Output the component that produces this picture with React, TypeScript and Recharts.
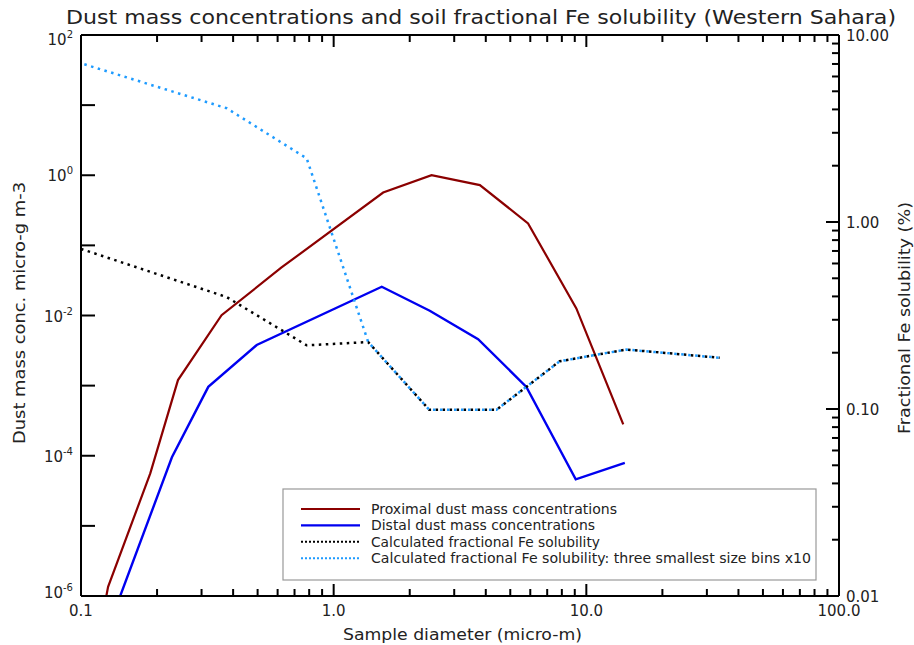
import { LineChart, Line, XAxis, YAxis, ReferenceLine } from 'recharts';

// proximal dust (left axis, micro-g m-3)
const proximalDiam = [0.12, 0.128, 0.188, 0.242, 0.36, 0.62, 1.57, 2.44, 3.79, 5.88, 9.13, 14.0];
const proximalMass = [4e-7, 1.35e-6, 5.6e-5, 1.2e-3, 0.0101, 0.048, 0.566, 1.0, 0.724, 0.206, 0.0126, 2.8e-4];

// distal dust (left axis)
const distalDiam = [0.13, 0.229, 0.319, 0.496, 1.55, 2.4, 3.73, 5.79, 9.08, 14.2];
const distalMass = [4e-7, 9.5e-5, 9.6e-4, 3.8e-3, 0.0257, 0.0117, 4.6e-3, 9.6e-4, 4.6e-5, 7.9e-5];

// fractional Fe solubility (right axis, %)
const solDiam = [0.1, 0.377, 0.782, 1.37, 2.39, 4.41, 7.84, 14.4, 33.7];
const solCalc = [0.718, 0.397, 0.219, 0.228, 0.099, 0.099, 0.18, 0.208, 0.188];
const solScaled = [7.06, 4.06, 2.19, 0.228, 0.099, 0.099, 0.18, 0.208, 0.188];

const xMajor = [0.1, 1, 10, 100];
const xMajorLabels = ['0.1', '1.0', '10.0', '100.0'];
const leftDecades = [-6, -5, -4, -3, -2, -1, 0, 1, 2];
const rightMajor = [0.01, 0.1, 1, 10];
const rightMajorLabels = ['0.01', '0.10', '1.00', '10.00'];
const minorMult = [2, 3, 4, 5, 6, 7, 8, 9];

const legendItems = [
  { name: 'Proximal dust mass concentrations', color: '#8b0000', dash: undefined, len: 246 },
  { name: 'Distal dust mass concentrations', color: '#0000f0', dash: undefined, len: 224 },
  { name: 'Calculated fractional Fe solubility', color: '#000000', dash: '2 2', len: 229 },
  { name: 'Calculated fractional Fe solubility: three smallest size bins x10', color: '#1e9bff', dash: '2 2', len: 440 },
];

const toRows = (xs: number[], ys: number[]) => xs.map((x, i) => ({ x, y: ys[i] }));
const proximal = toRows(proximalDiam, proximalMass);
const distal = toRows(distalDiam, distalMass);
const calc = toRows(solDiam, solCalc);
const scaled = toRows(solDiam, solScaled);

const xTicks = xMajor.slice(0, 3).flatMap(d => [d, ...minorMult.map(m => d * m)]).concat([100]);
const leftTicks = leftDecades.map(e => Math.pow(10, e));
const rightTicks = rightMajor.slice(0, 3).flatMap(d => [d, ...minorMult.map(m => d * m)]).concat([10]);

const FONT = '"DejaVu Sans", sans-serif';
const isDecade = (v: number) => Math.abs(Math.log10(v) - Math.round(Math.log10(v))) < 1e-6;

// plot box (margins + 1px axes)
const PL = 81, PR = 839, PT = 35, PB = 596;
const xPx = (v: number) => PL + (Math.log10(v) + 1) * (PR - PL) / 3;
const yRightPx = (v: number) => PB - (Math.log10(v) + 2) * (PB - PT) / 3;

const XTick = (props: any) => {
  const { x, y, payload } = props;
  const idx = xMajor.findIndex(m => Math.abs(m - payload.value) / m < 1e-6);
  if (idx < 0) return <g />;
  return (
    <text x={x} y={y + 20} textAnchor="middle" fontSize={15} fontFamily={FONT} fill="#222">
      {xMajorLabels[idx]}
    </text>
  );
};

const LeftTick = (props: any) => {
  const { x, y, payload } = props;
  const e = Math.round(Math.log10(payload.value));
  const shift = e === 2 ? 4 : e === -6 ? -4 : 0;
  return (
    <g>
      <line x1={x} x2={x + 14} y1={y} y2={y} stroke="black" strokeWidth={2} />
      {e % 2 === 0 && (
        <text x={x - 8} y={y + 6 + shift} textAnchor="end" fontSize={15} fontFamily={FONT} fill="#222">
          10<tspan dy={-7} fontSize={10}>{e}</tspan>
        </text>
      )}
    </g>
  );
};

const RightTick = (props: any) => {
  const { x, y, payload } = props;
  const idx = rightMajor.findIndex(m => Math.abs(m - payload.value) / m < 1e-6);
  if (idx < 0) return <g />;
  return (
    <text x={x + 7} y={y + 6} textAnchor="start" fontSize={15} fontFamily={FONT} fill="#222">
      {rightMajorLabels[idx]}
    </text>
  );
};

export default function App() {
  return (
    <div style={{ position: 'absolute', left: 0, top: 0 }}>
      <LineChart width={914} height={645} margin={{ top: 35, right: 74, bottom: 48, left: 80 }}>
        <XAxis
          type="number"
          dataKey="x"
          scale="log"
          domain={[0.1, 100]}
          allowDataOverflow
          ticks={xTicks}
          interval={0}
          height={1}
          tickSize={0}
          tickMargin={0}
          tick={<XTick />}
          axisLine={{ stroke: '#000', strokeWidth: 2 }}
          tickLine={false}
        />
        <YAxis
          yAxisId="left"
          type="number"
          scale="log"
          domain={[1e-6, 100]}
          allowDataOverflow
          ticks={leftTicks}
          interval={0}
          width={1}
          tickSize={0}
          tickMargin={0}
          tick={<LeftTick />}
          axisLine={{ stroke: '#000', strokeWidth: 2 }}
          tickLine={false}
        />
        <YAxis
          yAxisId="right"
          orientation="right"
          type="number"
          scale="log"
          domain={[0.01, 10]}
          allowDataOverflow
          ticks={rightTicks}
          interval={0}
          width={1}
          tickSize={0}
          tickMargin={0}
          tick={<RightTick />}
          axisLine={{ stroke: '#000', strokeWidth: 2 }}
          tickLine={false}
        />
        <ReferenceLine yAxisId="left" y={100} stroke="#000" strokeWidth={2} />
        <Line yAxisId="left" data={proximal} dataKey="y" type="linear" stroke="#8b0000" strokeWidth={2.2} dot={false} isAnimationActive={false} />
        <Line yAxisId="left" data={distal} dataKey="y" type="linear" stroke="#0000f0" strokeWidth={2.4} dot={false} isAnimationActive={false} />
        <Line yAxisId="right" data={calc} dataKey="y" type="linear" stroke="#000" strokeWidth={2.5} strokeDasharray="2.5 4.5" dot={false} isAnimationActive={false} />
        <Line yAxisId="right" data={scaled} dataKey="y" type="linear" stroke="#1e9bff" strokeWidth={2.5} strokeDasharray="2.5 4.5" strokeDashoffset={3.5} dot={false} isAnimationActive={false} />
      </LineChart>

      <svg width={914} height={645} style={{ position: 'absolute', left: 0, top: 0, pointerEvents: 'none' }}>
        {/* inward tick marks on bottom/top and right axes */}
        {xTicks.map(v => {
          const len = isDecade(v) ? 12 : 7;
          const x = xPx(v);
          return (
            <g key={`xt-${v}`}>
              <line x1={x} x2={x} y1={PB} y2={PB - len} stroke="#000" strokeWidth={2} />
              <line x1={x} x2={x} y1={PT} y2={PT + len} stroke="#000" strokeWidth={2} />
            </g>
          );
        })}
        {rightTicks.map(v => {
          const len = isDecade(v) ? 13 : 7;
          const y = yRightPx(v);
          return <line key={`rt-${v}`} x1={PR} x2={PR - len} y1={y} y2={y} stroke="#000" strokeWidth={2} />;
        })}

        <text x={66} y={24} fontSize={19} fontFamily={FONT} fill="#222" textLength={830} lengthAdjust="spacingAndGlyphs">
          Dust mass concentrations and soil fractional Fe solubility (Western Sahara)
        </text>
        <text x={343} y={640} fontSize={16} fontFamily={FONT} fill="#222" textLength={239} lengthAdjust="spacingAndGlyphs">
          Sample diameter (micro-m)
        </text>
        <text transform="translate(25,444) rotate(-90)" fontSize={16} fontFamily={FONT} fill="#222" textLength={262} lengthAdjust="spacingAndGlyphs">
          Dust mass conc. micro-g m-3
        </text>
        <text transform="translate(910,434) rotate(-90)" fontSize={16} fontFamily={FONT} fill="#222" textLength={232} lengthAdjust="spacingAndGlyphs">
          Fractional Fe solubility (%)
        </text>

        <rect x={283} y={489} width={533} height={91} fill="#fff" stroke="#999" strokeWidth={1.2} />
        {legendItems.map((it, i) => {
          const cy = 509 + i * 16.4;
          return (
            <g key={it.name}>
              <line x1={301} x2={360} y1={cy} y2={cy} stroke={it.color} strokeWidth={it.dash ? 2 : 2.2} strokeDasharray={it.dash} />
              <text x={371} y={cy + 5} fontSize={13.3} fontFamily={FONT} fill="#222" textLength={it.len} lengthAdjust="spacingAndGlyphs">
                {it.name}
              </text>
            </g>
          );
        })}
      </svg>
    </div>
  );
}
